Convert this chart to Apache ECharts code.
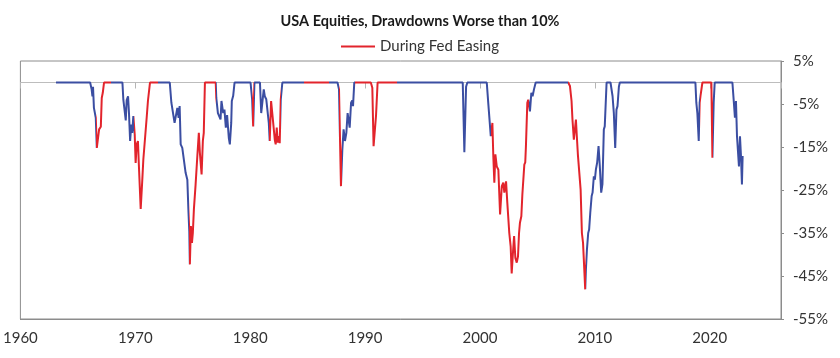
<!DOCTYPE html>
<html>
<head>
<meta charset="utf-8">
<script src="https://cdn.jsdelivr.net/npm/echarts@6/dist/echarts.min.js"></script>
<style>
html,body{margin:0;padding:0;background:#fff;}
#chart{width:840px;height:358px;}
</style>
</head>
<body>
<div id="chart"></div>
<script>
// Drawdown of USA equities (decimal year, % drawdown)
const years = [
  1963.1,1966.07,1966.2,1966.27,1966.32,1966.4,1966.56,1966.65,1966.73,1966.85,1967.0,1967.08,1967.17,1967.28,
  1968.88,1968.96,1969.05,1969.17,1969.25,1969.37,1969.45,1969.55,1969.65,1969.73,1969.83,1969.95,1970.03,1970.12,1970.23,1970.31,1970.47,1970.61,1970.7,1970.82,1970.99,1971.1,1971.28,
  1973.0,1973.14,1973.3,1973.42,1973.54,1973.66,1973.77,1973.86,1973.95,1974.09,1974.23,1974.38,1974.53,1974.62,1974.7,1974.75,1974.84,1974.93,1975.01,1975.1,1975.25,1975.4,1975.53,1975.62,1975.77,1975.88,1975.96,1976.06,
  1977.0,1977.05,1977.19,1977.33,1977.42,1977.5,1977.65,1977.76,1977.88,1977.99,1978.14,1978.23,1978.35,1978.4,1978.52,1978.64,
  1980.03,1980.17,1980.26,1980.37,
  1980.85,1980.96,1981.18,1981.27,1981.4,1981.52,1981.62,1981.7,1981.82,1981.96,1982.05,1982.14,1982.22,1982.31,1982.4,1982.48,1982.57,1982.66,1982.8,
  1987.6,1987.73,1987.9,1988.02,1988.13,1988.25,1988.37,1988.48,1988.58,1988.66,1988.78,1988.88,1988.95,1989.06,
  1990.5,1990.63,1990.74,1990.83,1990.95,1991.09,
  1998.5,1998.64,1998.79,1998.9,
  2000.59,2000.73,2000.82,2000.94,2001.08,2001.16,2001.25,2001.34,2001.46,2001.6,2001.75,2001.9,2002.03,2002.12,2002.27,2002.38,2002.46,2002.55,2002.67,2002.76,2002.88,2002.97,2003.08,2003.2,2003.31,2003.4,2003.48,2003.6,2003.69,2003.77,2003.86,2003.94,2004.0,2004.12,2004.2,2004.28,2004.35,2004.47,2004.58,2004.7,2004.85,
  2007.68,2007.83,2007.97,2008.05,2008.17,2008.25,2008.35,2008.43,2008.52,2008.6,2008.76,2008.87,2008.97,2009.05,2009.16,2009.22,2009.31,2009.42,2009.5,2009.6,2009.72,2009.8,2009.91,2010.0,2010.09,2010.2,2010.32,2010.43,2010.55,2010.66,2010.78,2010.86,2011.02,
  2011.36,2011.54,2011.65,2011.77,2011.88,2011.97,2012.09,2012.17,
  2018.75,2018.83,2018.92,2019.04,2019.12,2019.2,2019.36,
  2020.14,2020.23,2020.34,2020.43,
  2021.97,2022.08,2022.19,2022.28,2022.37,2022.46,2022.54,2022.63,2022.71,2022.8,2022.86
];
const drawdown = [
  0,0,-1.6,-3.2,-1.0,-5.9,-8.2,-15.2,-15.6,-10.9,-10.3,-3.6,-2.4,0,
  0,-4.0,-4.4,-8.8,-4.1,-3.2,-7.1,-13.6,-9.8,-11.7,-7.8,-12.1,-18.7,-14.4,-13.6,-19.1,-29.4,-22.6,-17.9,-17.5,-8.2,-4.3,0,
  0,-4.7,-5.1,-9.4,-9.8,-5.9,-8.2,-5.5,-14.4,-15.2,-15.2,-21.0,-22.6,-29.5,-34.6,-42.3,-33.4,-37.3,-34.9,-29.5,-23.7,-17.1,-11.7,-16.3,-21.4,-13.6,-11.7,0,
  0,-3.6,-7.1,-6.7,-8.6,-4.3,-7.1,-6.3,-10.5,-7.6,-12.9,-14.4,-9.4,-4.3,-3.1,0,
  0,-4.0,-10.2,0,
  0,-7.1,-1.6,-3.2,-3.9,-3.6,-9.4,-13.6,-4.3,-8.2,-8.6,-13.3,-14.4,-10.5,-14.0,-12.5,-14.1,-4.0,0,
  0,-1.6,-24.1,-15.6,-10.9,-13.6,-11.7,-7.1,-7.1,-10.5,-4.7,-4.2,-5.5,0,
  0,-1.2,-14.8,-14.8,-7.8,0,
  0,-16.2,-1.0,0,
  0,-5.1,-5.5,-12.5,-9.4,-17.1,-23.3,-16.7,-19.5,-20.3,-30.7,-24.1,-23.3,-25.6,-23.0,-28.0,-28.0,-35.0,-38.1,-44.4,-39.2,-35.7,-40.8,-41.9,-40.4,-35.0,-32.6,-31.1,-26.0,-26.2,-19.1,-18.6,-14.8,-4.7,-4.0,-5.5,-6.7,-2.4,-3.2,-1.6,0,
  0,-0.8,-4.3,-8.6,-13.3,-13.7,-8.6,-12.5,-16.7,-16.3,-24.9,-35.0,-37.3,-37.7,-48.1,-43.5,-38.8,-35.0,-34.2,-30.3,-26.4,-25.6,-21.8,-22.6,-20.2,-18.6,-14.8,-19.5,-25.6,-23.6,-10.9,-10.2,0,
  0,-3.2,-7.1,-15.2,-6.3,-5.5,-1.0,0,
  0,-4.7,-7.1,-13.6,-4.7,-3.0,0,
  0,-17.5,-4.7,0,
  0,-4.0,-8.2,-4.3,-12.5,-12.9,-19.5,-12.5,-16.7,-23.7,-17.1
];
// Fed easing periods (start, end) in decimal years
const easingStart = [1966.6, 1969.93, 1974.68, 1980.15, 1981.6, 1984.66, 1987.73, 1989.15, 2000.93, 2007.68, 2019.15];
const easingEnd   = [1967.9, 1971.97, 1977.0, 1980.36, 1982.7, 1986.83, 1988.0, 1992.82, 2004.3, 2009.2, 2020.3];

const RED = '#e2242c', BLUE = '#3b4ea2';
const FONT = 'Lato, "Open Sans", sans-serif';

const data = years.map((y, i) => [y, drawdown[i]]);
const pieces = easingStart.map((s, i) => ({ gte: s, lt: easingEnd[i], color: RED }));

const chart = echarts.init(document.getElementById('chart'), null, { renderer: 'canvas' });
chart.setOption({
  animation: false,
  backgroundColor: '#fff',
  title: {
    text: 'USA Equities, Drawdowns Worse than 10%',
    left: 'center', top: 9,
    textStyle: { fontFamily: FONT, fontSize: 14.5, fontWeight: 'bold', color: '#1a1a1a' }
  },
  legend: {
    data: ['During Fed Easing'],
    left: 'center', top: 34,
    icon: 'rect', itemWidth: 34, itemHeight: 2, itemGap: 6,
    textStyle: { fontFamily: FONT, fontSize: 15, color: '#333' }
  },
  grid: {
    left: 19, right: 59, top: 61, bottom: 39,
    show: true, borderColor: '#8c8c8c', borderWidth: 1
  },
  xAxis: [{
    type: 'value', min: 1960, max: 2026.2, interval: 10,
    position: 'bottom',
    axisLine: { show: true, onZero: false, lineStyle: { color: '#8c8c8c' } },
    axisTick: { show: false },
    splitLine: { show: false },
    axisLabel: { margin: 12, fontFamily: FONT, fontSize: 15, color: '#333', showMaxLabel: false,
      formatter: v => String(v) }
  }, {
    type: 'value', min: 1960, max: 2026.2, interval: 10,
    position: 'bottom',
    axisLine: { show: true, onZero: true, lineStyle: { color: '#bdbdbd' } },
    axisTick: { show: true, length: 6, lineStyle: { color: '#b5b5b5' } },
    splitLine: { show: false },
    axisLabel: { show: false }
  }],
  yAxis: {
    type: 'value', position: 'right', min: -55, max: 5, interval: 10,
    axisLine: { show: true, lineStyle: { color: '#8c8c8c' } },
    axisTick: { show: true, length: 3, lineStyle: { color: '#8c8c8c' } },
    splitLine: { show: false },
    axisLabel: { margin: 12, fontFamily: FONT, fontSize: 15, color: '#333', formatter: v => v + '%' }
  },
  visualMap: {
    type: 'piecewise', show: false, dimension: 0, seriesIndex: 0,
    pieces: pieces, outOfRange: { color: BLUE }
  },
  series: [{
    name: 'Drawdown', type: 'line', data: data, showSymbol: false, symbol: 'none',
    lineStyle: { width: 2 }, z: 5
  }, {
    name: 'During Fed Easing', type: 'line', data: [], symbol: 'none',
    itemStyle: { color: RED }, lineStyle: { color: RED, width: 2 }
  }]
});
</script>
</body>
</html>
